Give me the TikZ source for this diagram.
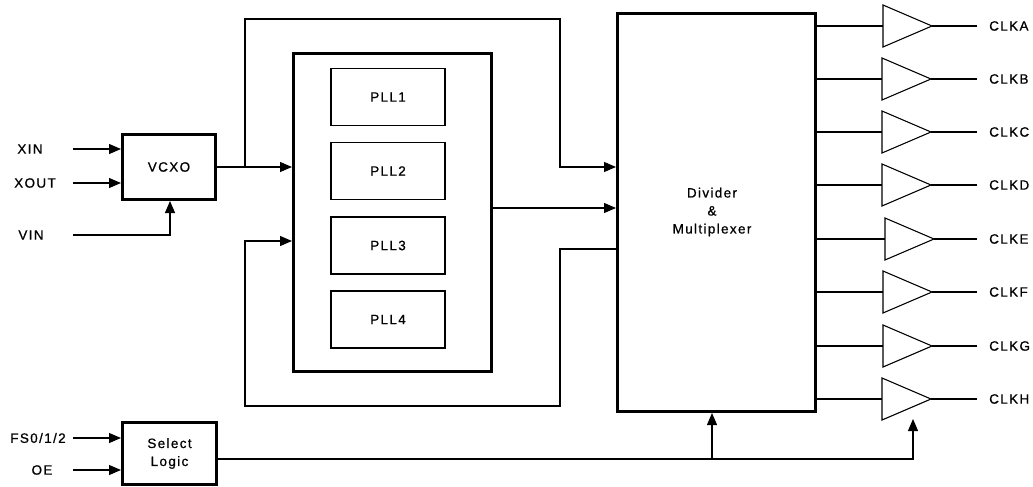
\documentclass[tikz,border=0pt]{standalone}
\usepackage{fontspec}
\setmainfont{Liberation Sans}[LetterSpace=10,FakeBold=0.8]
\usetikzlibrary{arrows.meta,calc}
\begin{document}
\begin{tikzpicture}[x=1pt,y=-1pt,
  thin line/.style={line width=1.1pt},
  arr/.style={thin line,-{Triangle[length=12pt,width=10pt]}},
  bigbox/.style={draw,line width=3pt,inner sep=0pt,font=\fontsize{13.5pt}{18pt}\selectfont,align=center},
  pllbox/.style={draw,line width=1.1pt,inner sep=0pt,minimum width=114pt,minimum height=57pt,font=\fontsize{13.5pt}{18pt}\selectfont},
  lbl/.style={inner sep=0pt,font=\fontsize{13.5pt}{18pt}\selectfont},
  buf/.style={thin line,fill=white}
]
\useasboundingbox (0,0) rectangle (1033,487);

% main blocks
\node[bigbox,minimum width=93pt,minimum height=65pt] (vcxo) at (169,167) {VCXO};
\node[bigbox,minimum width=94pt,minimum height=62pt] (sel) at (169.5,453.5) {Select\\Logic};
\node[bigbox,minimum width=198pt,minimum height=318pt] (pll) at (392.5,212.5) {};
\node[pllbox] (p1) at (388,97) {PLL1};
\node[pllbox] (p2) at (388,171) {PLL2};
\node[pllbox] (p3) at (388,245.5) {PLL3};
\node[pllbox] (p4) at (388,319.5) {PLL4};
\node[bigbox,minimum width=198pt,minimum height=398pt] (div) at (716.5,212.5) {};
\node[lbl,align=center] (divt) at (712,212) {Divider\\\&\\Multiplexer};

% input labels
\node[lbl] (lxin) at (30,149) {XIN};
\node[lbl] (lxout) at (35,183) {XOUT};
\node[lbl] (lvin) at (31,235) {VIN};
\node[lbl] (lfs) at (38,438) {FS0/1/2};
\node[lbl] (loe) at (42,470) {OE};

\coordinate (xin) at (73,149);
\coordinate (xout) at (73,183);
\coordinate (vin) at (73,235);
\coordinate (vinc) at (170,235);
\coordinate (fs) at (73,438);
\coordinate (oe) at (73,470);

\draw[arr] (xin) -- (vcxo.west |- xin);
\draw[arr] (xout) -- (vcxo.west |- xout);
\draw[arr] (vin) -- (vinc) -- (vcxo.south -| vinc);
\draw[arr] (fs) -- (sel.west |- fs);
\draw[arr] (oe) -- (sel.west |- oe);

% VCXO to PLL and bypass to divider
\coordinate (br) at (245,167);
\coordinate (tl) at (245,19);
\coordinate (tr) at (560,19);
\coordinate (trd) at (560,167);
\draw[arr] (vcxo.east) -- (pll.west |- vcxo.east);
\draw[arr] (br) -- (tl) -- (tr) -- (trd) -- (div.west |- trd);

% PLL to divider
\coordinate (py) at (0,208);
\draw[arr] (pll.east |- py) -- (div.west |- py);

% feedback loop
\coordinate (fy) at (560,249);
\coordinate (fbr) at (560,406);
\coordinate (fbl) at (245,406);
\coordinate (fbu) at (245,241);
\draw[arr] (div.west |- fy) -- (fy) -- (fbr) -- (fbl) -- (fbu) -- (pll.west |- fbu);

% buffers
\foreach \n/\y/\dx in {A/26/0,B/79/-1,C/132/-1,D/185/-1,E/239/2,F/292/0,G/346/0,H/399/-1}{
  \coordinate (in\n) at (883+\dx,\y);
  \draw[buf] (in\n) -- ++(0,-21) -- ++(49,21) coordinate (out\n) -- ++(-49,21) -- cycle;
  \coordinate (end\n) at (977,\y);
  \draw[thin line] (div.east |- in\n) -- (in\n);
  \draw[thin line] (out\n) -- (end\n);
  \node[lbl,anchor=west] (clk\n) at (989,\y) {CLK\n};
}

% select logic outputs
\coordinate (j1) at (712,459);
\coordinate (j2) at (913,459);
\coordinate (hb) at (913,419);
\draw[thin line] (sel.east |- j1) -- (j1);
\draw[arr] (j1) -- (div.south -| j1);
\draw[arr] (j1) -- (j2) -- (hb);
\end{tikzpicture}
\end{document}
